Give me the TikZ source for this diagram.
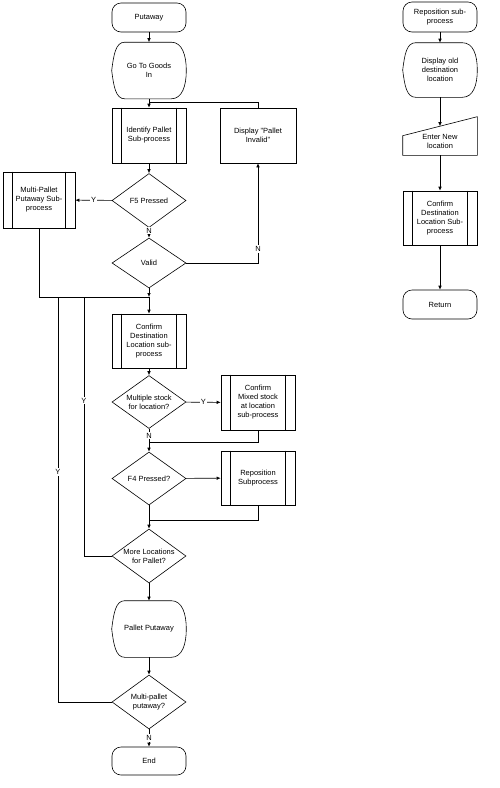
\documentclass[tikz,border=0pt]{standalone}
\usepackage{fontspec}
\setmainfont{Liberation Sans}
\usetikzlibrary{shapes.geometric,arrows.meta}
\begin{document}
\begin{tikzpicture}[x=1pt,y=-1pt,line width=0.6pt,>={Latex[length=4pt,width=3.5pt]},font=\fontsize{7.5}{9}\selectfont]
		\tikzstyle{term}=[draw,rounded corners=9pt,minimum width=74,minimum height=29,align=center,inner sep=1pt]
		\tikzstyle{subproc}=[draw,minimum width=74,minimum height=55,align=center,inner sep=1pt]
		\tikzstyle{proc}=[draw,minimum width=76,minimum height=55,align=center,inner sep=1pt]
		\tikzstyle{dec}=[draw,diamond,aspect=1.37,minimum width=74,minimum height=54,inner sep=0pt,align=center]
		\tikzstyle{disp}=[minimum width=74,minimum height=56,align=center,inner sep=1pt]
		\tikzstyle{lab}=[fill=white,inner sep=1pt]
		
		\useasboundingbox (0,0) rectangle (499,788);
		
		\node[term] (put) at (149,17.5) {Putaway};
		\node[disp] (goods) at (149,70.5) {Go To Goods\\In};
		\node[subproc] (ident) at (149,135.5) {Identify Pallet\\Sub-process};
		\node[proc] (inval) at (258,135.5) {Display "Pallet\\Invalid"};
		\node[dec] (f5) at (149,200.5) {F5 Pressed};
		\node[subproc,minimum width=72,minimum height=56] (multi) at (39,200) {Multi-Pallet\\Putaway Sub-\\process};
		\node[dec,minimum height=50] (valid) at (149,263) {Valid};
		\coordinate (j0) at (149,102);
		\coordinate (j1) at (149,297);
		\coordinate (j4) at (84,297);
		\coordinate (j5) at (58,297);
		
		\node[subproc,minimum height=54] (conf) at (149,341) {Confirm\\Destination\\Location sub-\\process};
		\node[dec,minimum height=53] (mult) at (149,402) {Multiple stock\\for location?};
		\node[subproc] (mixed) at (258,402.5) {Confirm\\Mixed stock\\at location\\sub-process};
		\coordinate (j2) at (149,442);
		\node[dec,minimum height=53] (f4) at (149,478.5) {F4 Pressed?};
		\node[subproc,minimum height=54] (repos) at (258,478) {Reposition\\Subprocess};
		\coordinate (j3) at (149,520);
		\node[dec] (more) at (149,556) {More Locations\\for Pallet?};
		\node[disp] (pput) at (149,629) {Pallet Putaway};
		\node[dec] (mpal) at (149,702) {Multi-pallet\\putaway?};
		\node[term,minimum height=28] (endn) at (149,761) {End};
		
		\node[term,minimum height=30] (rp) at (440,17) {Reposition sub-\\process};
		\node[disp,minimum height=54] (old) at (440,70) {Display old\\destination\\location};
		\node[minimum width=74,minimum height=27,align=center,inner sep=1pt] (man) at (440,141.5) {Enter New\\location};
		\coordinate (mantop) at ([yshift=1.5]man.north);
		\node[subproc,minimum height=54] (conf2) at (440,218) {Confirm\\Destination\\Location Sub-\\process};
		\node[term] (ret) at (440,304.5) {Return};
		
		\foreach \n in {ident,multi,conf,mixed,repos,conf2} {
			\draw ([xshift=10]\n.north west) -- ([xshift=10]\n.south west);
			\draw ([xshift=-10]\n.north east) -- ([xshift=-10]\n.south east);
		}
		\foreach \n in {goods,pput,old} {
			\draw (\n.west) .. controls +(2,-16) and +(-9,0) .. ([xshift=13]\n.north west) -- ([xshift=-15]\n.north east) .. controls +(11,0) and +(0,-15) .. (\n.east) .. controls +(0,15) and +(11,0) .. ([xshift=-15]\n.south east) -- ([xshift=13]\n.south west) .. controls +(-9,0) and +(2,16) .. (\n.west);
		}
		\draw (man.south west) -- ([yshift=-8]man.north west) -- ([yshift=11]man.north east) -- (man.south east) -- cycle;
		
		\draw[->] (put) -- (goods);
		\draw[->] (goods) -- (ident);
		\draw (inval.north) |- (j0);
		\draw[->] (ident) -- (f5);
		\draw[->] (f5) -- node[lab] {Y} (multi);
		\draw[->] (f5) -- node[lab,pos=0.3] {N} (valid);
		\draw[->] (valid.east) -| node[lab,pos=0.57] {N} (inval.south);
		\draw[->] (valid) -- (j1);
		\draw (multi.south) |- (j1);
		\draw[->] (j1) -- (conf);
		\draw[->] (conf) -- (mult);
		\draw[->] (mult) -- node[lab] {Y} (mixed);
		\draw[->] (mult) -- node[lab,pos=0.3] {N} (f4);
		\draw (mixed.south) |- (j2);
		\draw[->] (f4) -- (repos);
		\draw[->] (f4) -- (more);
		\draw (repos.south) |- (j3);
		\draw (more.west) -| node[lab,pos=0.8] {Y} (j4);
		\draw[->] (more) -- (pput);
		\draw[->] (pput) -- (mpal);
		\draw (mpal.west) -| node[lab,pos=0.784] {Y} (j5);
		\draw[->] (mpal) -- node[lab] {N} (endn);
		
		\draw[->] (rp) -- (old);
		\draw[->] (old) -- (mantop);
		\draw[->] (man) -- (conf2);
		\draw[->] (conf2) -- (ret);
	\end{tikzpicture}
\end{document}
